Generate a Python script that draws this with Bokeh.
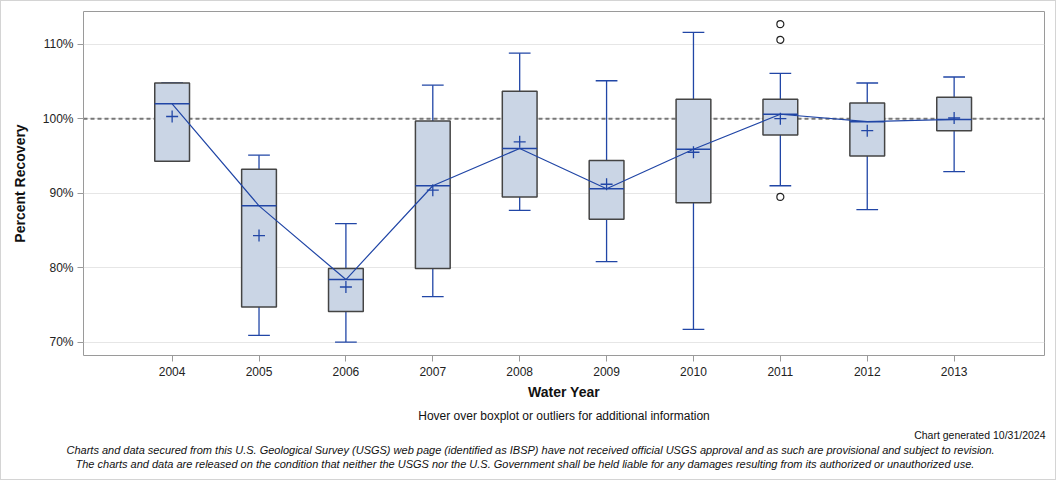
from bokeh.plotting import figure
from bokeh.models import (Range1d, FixedTicker, PrintfTickFormatter, Span, Title)
from bokeh.embed import file_html
from bokeh.resources import INLINE

years = [2004, 2005, 2006, 2007, 2008, 2009, 2010, 2011, 2012, 2013]
lower_whisker = [94.3, 70.9, 70.0, 76.1, 87.7, 80.8, 71.7, 91.0, 87.8, 92.9]
q1 = [94.3, 74.7, 74.1, 79.9, 89.5, 86.5, 88.7, 97.8, 95.0, 98.4]
median = [102.0, 88.3, 78.4, 91.0, 96.0, 90.6, 95.9, 100.6, 99.6, 99.9]
q3 = [104.8, 93.2, 79.9, 99.7, 103.7, 94.4, 102.6, 102.6, 102.1, 102.9]
upper_whisker = [104.8, 95.1, 85.9, 104.5, 108.8, 105.1, 111.6, 106.1, 104.8, 105.6]
mean = [100.3, 84.3, 77.4, 90.4, 96.9, 91.2, 95.5, 100.0, 98.4, 100.1]
outlier_years = [2011, 2011, 2011]
outlier_values = [112.7, 110.6, 89.5]
y_ticks = [70, 80, 90, 100, 110]
reference_value = 100

BLUE = "#2146a6"
FONT = "Liberation Sans"

p = figure(width=1056, height=480, output_backend="svg", toolbar_location=None,
           x_range=Range1d(2002.98, 2014.04), y_range=Range1d(68.2, 114.4),
           min_border_left=82, min_border_right=13, min_border_top=10,
           min_border_bottom=126, background_fill_color="white",
           border_fill_color="white")
p.styles = {"border": "1px solid #d4d4d4", "box-sizing": "border-box"}
p.outline_line_color = "#9a9a9a"
p.outline_line_width = 1

p.xgrid.grid_line_color = None
p.ygrid.grid_line_color = "#e6e6e6"
p.ygrid.ticker = FixedTicker(ticks=y_ticks)

p.yaxis.ticker = FixedTicker(ticks=y_ticks)
p.yaxis.formatter = PrintfTickFormatter(format="%d%%")
p.xaxis.ticker = FixedTicker(ticks=years)
p.xaxis.formatter = PrintfTickFormatter(format="%d")
for ax in (p.xaxis, p.yaxis):
    ax.axis_line_color = None
    ax.major_tick_line_color = "#9a9a9a"
    ax.minor_tick_line_color = None
    ax.major_tick_in = 0
    ax.major_tick_out = 6
    ax.major_label_text_font = FONT
    ax.major_label_text_font_size = "12px"
    ax.major_label_text_color = "#222222"
    ax.axis_label_text_font = FONT
    ax.axis_label_text_font_style = "bold"
    ax.axis_label_text_font_size = "14px"
    ax.axis_label_text_color = "#111111"
p.xaxis.axis_label = "Water Year"
p.yaxis.axis_label = "Percent Recovery"
p.xaxis.major_label_standoff = 5
p.yaxis.major_label_standoff = 4
p.xaxis.axis_label_standoff = 5
p.yaxis.axis_label_standoff = 12

ref = Span(location=reference_value, dimension="width", line_color="#777777",
           line_width=2, line_dash="4 3", level="underlay")
p.add_layout(ref)

# whiskers
p.segment(x0=years, y0=q3, x1=years, y1=upper_whisker, line_color=BLUE, line_width=1.3)
p.segment(x0=years, y0=lower_whisker, x1=years, y1=q1, line_color=BLUE, line_width=1.3)
cap_l = [y - 0.125 for y in years]
cap_r = [y + 0.125 for y in years]
p.segment(x0=cap_l, y0=upper_whisker, x1=cap_r, y1=upper_whisker, line_color=BLUE, line_width=1.3)
p.segment(x0=cap_l, y0=lower_whisker, x1=cap_r, y1=lower_whisker, line_color=BLUE, line_width=1.3)

# boxes
p.vbar(x=years, width=0.4, bottom=q1, top=q3, fill_color="#cad5e5",
       line_color="#444444", line_width=1.5)
box_l = [y - 0.2 for y in years]
box_r = [y + 0.2 for y in years]
p.segment(x0=box_l, y0=median, x1=box_r, y1=median, line_color=BLUE, line_width=1.5)

# median connect line
p.line(x=years, y=median, line_color=BLUE, line_width=1.2)

# means
p.scatter(x=years, y=mean, marker="cross", size=12, line_color=BLUE, line_width=1.3)

# outliers
p.scatter(x=outlier_years, y=outlier_values, marker="circle", size=7,
          fill_color=None, line_color="#222222", line_width=1.2)

def add_title(txt, size, align="center", style="normal", offset=0, standoff=4):
    p.add_layout(Title(text=txt, text_font=FONT, text_font_size=size, align=align,
                       text_font_style=style, text_color="#111111",
                       offset=offset, standoff=standoff), "below")

add_title("Hover over boxplot or outliers for additional information", "12px", standoff=8)
add_title("Chart generated 10/31/2024", "10.5px", align="right", offset=-1, standoff=1)
add_title("Charts and data secured from this U.S. Geological Survey (USGS) web page (identified as IBSP) have not received official USGS approval and as such are provisional and subject to revision.",
          "11px", align="left", style="italic", offset=-17, standoff=1)
add_title("The charts and data are released on the condition that neither the USGS nor the U.S. Government shall be held liable for any damages resulting from its authorized or unauthorized use.",
          "11px", align="left", style="italic", offset=-8, standoff=-2)

open("out.html", "w").write(file_html(p, INLINE))
